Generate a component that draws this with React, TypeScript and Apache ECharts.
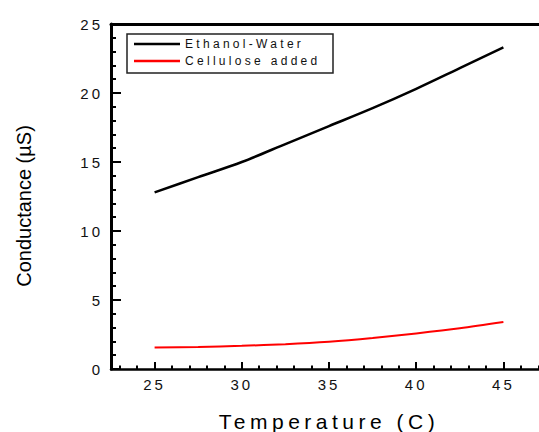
import { useEffect, useRef } from "react";
import * as echarts from "echarts";

const temperatures = [25, 27.5, 30, 32.5, 35, 37.5, 40, 42.5, 45];
const ethanolWater = [12.8, 13.9, 15.0, 16.3, 17.6, 18.9, 20.3, 21.8, 23.3];
const celluloseAdded = [1.55, 1.6, 1.68, 1.8, 1.98, 2.25, 2.58, 2.95, 3.4];

const seriesNames = ["Ethanol-Water", "Cellulose added"];
const xMajorTicks = [25, 30, 35, 40, 45];
const xMinorTicks = [23, 24, 26, 27, 28, 29, 31, 32, 33, 34, 36, 37, 38, 39, 41, 42, 43, 44, 46, 47];
const xTitle = "Temperature (C)";
const yTitle = "Conductance (µS)";

const FONT = "'Liberation Sans', Arial, sans-serif";
const INK = "#111";

export default function App() {
  const ref = useRef<HTMLDivElement>(null);

  useEffect(() => {
    const el = ref.current!;
    const chart = echarts.init(el, null, { renderer: "svg" });
    const pairs = (ys: number[]) => temperatures.map((t, i) => [t, ys[i]]);

    chart.setOption({
      animation: false,
      backgroundColor: "#fff",
      textStyle: { fontFamily: FONT },
      grid: { left: 111, right: 1, top: 24, bottom: 63, outerBoundsMode: "none", containLabel: false },
      legend: {
        data: seriesNames,
        orient: "vertical",
        left: 127,
        top: 34,
        padding: [4, 7, 3, 7],
        itemGap: 5,
        itemWidth: 46,
        itemHeight: 2.5,
        icon: "rect",
        textStyle: { fontSize: 12, color: INK, fontFamily: FONT },
      },
      xAxis: [
        {
          type: "value",
          position: "bottom",
          min: 22.5,
          max: 47.5,
          name: xTitle,
          nameLocation: "middle",
          nameGap: 42,
          nameTextStyle: { fontSize: 21, color: "#000", fontFamily: FONT },
          axisLine: { show: true, onZero: false, lineStyle: { color: "#000", width: 2.5 } },
          axisTick: { show: true, inside: true, length: 7, customValues: xMajorTicks, lineStyle: { color: "#000", width: 2 } },
          axisLabel: { customValues: xMajorTicks, margin: 8, fontSize: 15, color: INK, fontFamily: FONT },
          splitLine: { show: false },
        },
        {
          type: "value",
          position: "bottom",
          min: 22.5,
          max: 47.5,
          axisLine: { show: false },
          axisTick: { show: true, inside: true, length: 3.5, customValues: xMinorTicks, lineStyle: { color: "#000", width: 2 } },
          axisLabel: { show: false },
          splitLine: { show: false },
        },
        {
          type: "value",
          position: "top",
          min: 22.5,
          max: 47.5,
          axisLine: { show: true, onZero: false, lineStyle: { color: "#000", width: 3 } },
          axisTick: { show: false },
          axisLabel: { show: false },
          splitLine: { show: false },
        },
      ],
      yAxis: {
        type: "value",
        min: 0,
        max: 25,
        interval: 5,
        axisLine: { show: true, onZero: false, lineStyle: { color: "#000", width: 3 } },
        axisTick: { show: true, inside: true, length: 10, lineStyle: { color: "#000", width: 2 } },
        minorTick: { show: true, splitNumber: 5, length: 5, lineStyle: { color: "#000", width: 2 } },
        axisLabel: { margin: 8, fontSize: 15, color: INK, fontFamily: FONT },
        splitLine: { show: false },
        minorSplitLine: { show: false },
      },
      graphic: [
        {
          type: "rect",
          shape: { x: 127, y: 34, width: 206, height: 39 },
          style: { fill: "none", stroke: "#222", lineWidth: 1.5 },
          z: 10,
        },
        {
          type: "text",
          x: 24,
          y: 206,
          rotation: Math.PI / 2,
          style: {
            text: yTitle,
            fontSize: 20,
            fontFamily: FONT,
            fill: "#000",
            align: "center",
            verticalAlign: "middle",
          },
        },
      ],
      series: [
        {
          name: seriesNames[0],
          type: "line",
          xAxisIndex: 0,
          data: pairs(ethanolWater),
          smooth: 0.3,
          showSymbol: false,
          color: "#000",
          lineStyle: { color: "#000", width: 2.5 },
        },
        {
          name: seriesNames[1],
          type: "line",
          xAxisIndex: 0,
          data: pairs(celluloseAdded),
          smooth: 0.3,
          showSymbol: false,
          color: "#ff0000",
          lineStyle: { color: "#ff0000", width: 2 },
        },
      ],
    });

    const spacingFor = (t: string) => {
      if (t === xTitle) return "4.5px";
      if (seriesNames.includes(t)) return "3.3px";
      if (/^\d+$/.test(t)) return "3px";
      return "";
    };
    el.querySelectorAll("text").forEach((node) => {
      const s = spacingFor((node.textContent || "").trim());
      if (s) (node as SVGTextElement).style.letterSpacing = s;
    });

    return () => chart.dispose();
  }, []);

  return (
    <div
      ref={ref}
      style={{ position: "fixed", left: 0, top: 0, width: 548, height: 432 }}
    />
  );
}
